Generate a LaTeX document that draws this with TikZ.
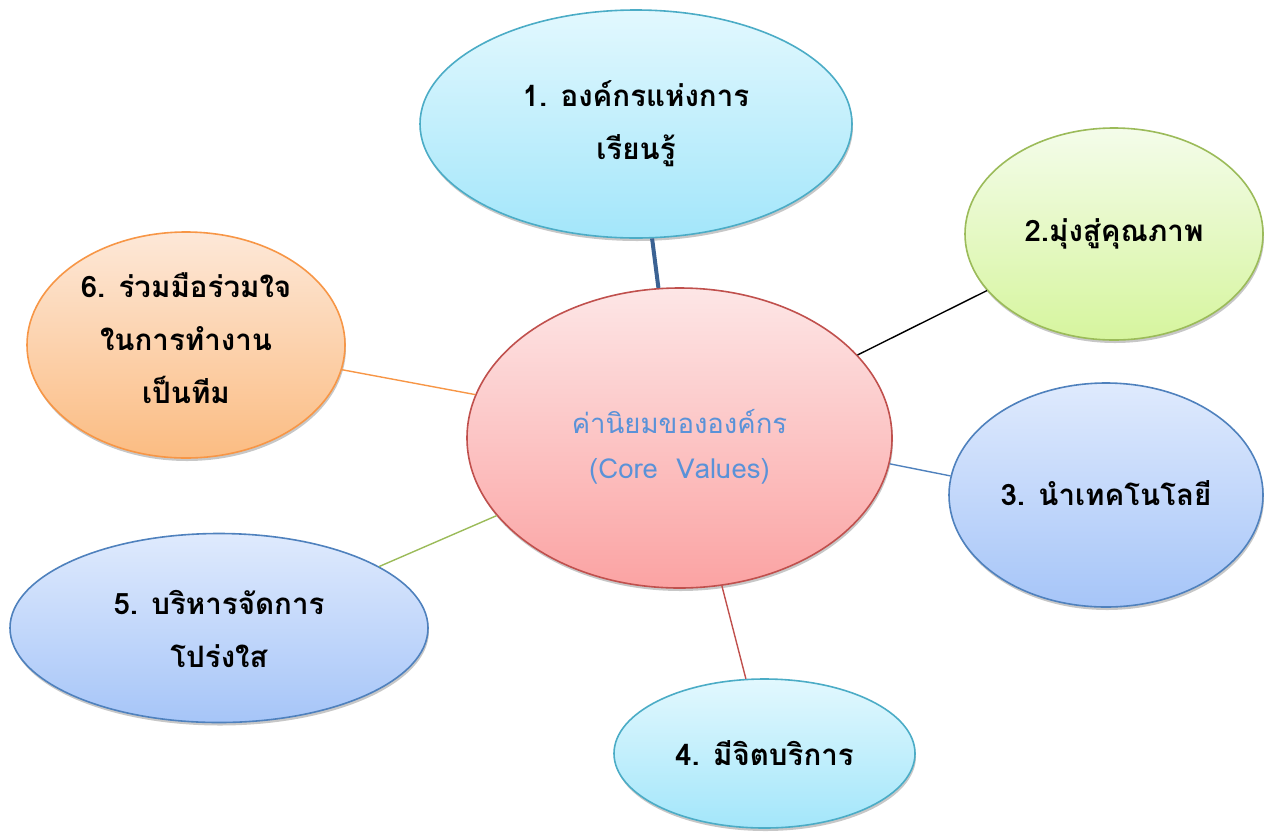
\documentclass[tikz,border=0pt]{standalone}
\usepackage{fontspec}
\newfontfamily\thaifont[Script=Thai]{Loma}
\usetikzlibrary{shapes.geometric,shadows}
\definecolor{aquaB}{HTML}{4BACC6}
\definecolor{aquaT}{HTML}{E2F8FE}
\definecolor{aquaL}{HTML}{A3E6FA}
\definecolor{grnB}{HTML}{9BBB59}
\definecolor{grnT}{HTML}{F4FCEA}
\definecolor{grnL}{HTML}{D6F59E}
\definecolor{bluB}{HTML}{4F81BD}
\definecolor{bluT}{HTML}{DFEAFD}
\definecolor{bluL}{HTML}{A6C5F8}
\definecolor{orgB}{HTML}{F79646}
\definecolor{orgT}{HTML}{FDE8D8}
\definecolor{orgL}{HTML}{FBBC82}
\definecolor{redB}{HTML}{C0504D}
\definecolor{redT}{HTML}{FDE6E6}
\definecolor{redL}{HTML}{FBA3A3}
\definecolor{ctext}{HTML}{5A92D8}
\definecolor{thick}{HTML}{3B6293}
\tikzset{
  bub/.style={ellipse, inner sep=0pt, line width=1.6pt,
    drop shadow={shadow xshift=1pt, shadow yshift=-3pt, opacity=0.22, fill=black}},
  aqua/.style={bub, draw=aquaB, top color=aquaT, bottom color=aquaL},
  grn/.style={bub, draw=grnB, top color=grnT, bottom color=grnL},
  blu/.style={bub, draw=bluB, top color=bluT, bottom color=bluL},
  org/.style={bub, draw=orgB, top color=orgT, bottom color=orgL},
  red/.style={bub, draw=redB, top color=redT, bottom color=redL},
  lbl/.style={align=center, inner sep=0pt, font=\thaifont\bfseries\fontsize{29.5}{53}\selectfont},
  clbl/.style={align=center, inner sep=0pt, text=ctext, font=\thaifont\fontsize{27.5}{45}\selectfont},
  conn/.style={line width=1.4pt}
}
\begin{document}
\begin{tikzpicture}[x=1pt,y=-1pt]
\useasboundingbox (0,0) rectangle (1271,831);
% bubbles
\node[aqua, minimum width=432pt, minimum height=228pt] (e1) at (636,124) {};
\node[grn,  minimum width=298pt, minimum height=212pt] (e2) at (1114,234) {};
\node[blu,  minimum width=314pt, minimum height=224pt] (e3) at (1106,495) {};
\node[aqua, minimum width=301pt, minimum height=149pt] (e4) at (764.5,753.5) {};
\node[blu,  minimum width=418pt, minimum height=189pt] (e5) at (219,628) {};
\node[org,  minimum width=318pt, minimum height=226pt] (e6) at (186,345) {};
\node[red,  minimum width=425pt, minimum height=300pt] (c) at (679.5,438) {};
% texts
\node[lbl] (t1) at (636,124) {1. องค์กรแห่งการ\\เรียนรู้};
\node[lbl] (t2) at (1114,234) {2.มุ่งสู่คุณภาพ};
\node[lbl] (t3) at (1106,493) {3. นำเทคโนโลยี};
\node[lbl] (t4) at (764.5,753) {4. มีจิตบริการ};
\node[lbl] (t5) at (219,629) {5. บริหารจัดการ\\โปร่งใส};
\node[lbl] (t6) at (186,338) {6. ร่วมมือร่วมใจ\\ในการทำงาน\\เป็นทีม};
\node[clbl] (tc) at (679.5,447) {ค่านิยมขององค์กร\\(Core\ \ Values)};
% connectors
\draw[line width=4pt, draw=thick] (e1.-82.5) -- (c.98.2);
\draw[conn, draw=black] (e2.204.9) -- (c.25.3);
\draw[conn, draw=bluB] (e3.173) -- (c.-7.3);
\draw[conn, draw=redB] (e4.104.7) -- (c.-74.9);
\draw[conn, draw=grnB] (e5.21.7) -- (c.203.1);
\draw[conn, draw=orgB] (e6.-9.8) -- (c.168.7);
\end{tikzpicture}
\end{document}
